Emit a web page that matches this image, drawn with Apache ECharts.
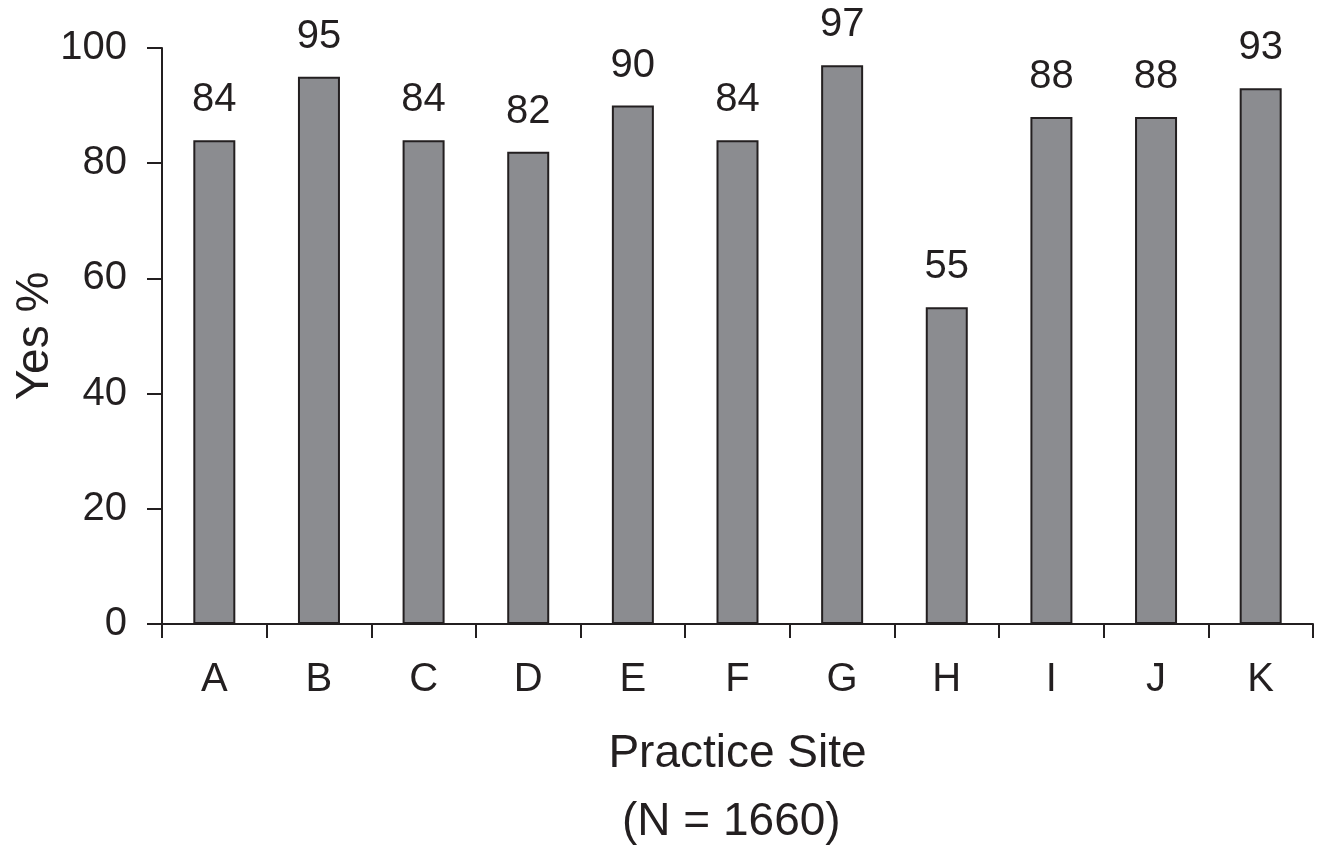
<!DOCTYPE html>
<html><head><meta charset="utf-8">
<script src="https://cdn.jsdelivr.net/npm/echarts@6/dist/echarts.min.js"></script>
<style>html,body{margin:0;padding:0;background:#fff}#c{width:1326px;height:848px}</style>
</head><body><div id="c"></div>
<script>
const categories = ['A','B','C','D','E','F','G','H','I','J','K'];
const values = [84,95,84,82,90,84,97,55,88,88,93];
const yTicks = [0,20,40,60,80,100];
const ink = '#231f20';
const font = 'Liberation Sans, Arial, Helvetica, sans-serif';
const chart = echarts.init(document.getElementById('c'));
chart.setOption({
  animation:false,
  grid:{left:162,right:13,top:48,bottom:224,containLabel:false,outerBoundsMode:'none'},
  title:{text:'(N = 1660)',left:622,top:799,textStyle:{fontFamily:font,fontSize:46,fontWeight:'normal',color:ink},padding:0},
  xAxis:{type:'category',data:categories,
    name:'Practice Site',nameLocation:'middle',nameGap:107,nameMoveOverlap:false,
    nameTextStyle:{fontFamily:font,fontSize:46,color:ink},
    axisLine:{show:true,lineStyle:{color:ink,width:2}},
    axisTick:{show:true,length:14,lineStyle:{color:ink,width:2},alignWithLabel:false},
    axisLabel:{fontFamily:font,fontSize:40,color:ink,margin:36}},
  yAxis:{type:'value',min:0,max:100,interval:20,
    name:'Yes %',nameLocation:'middle',nameGap:104,nameMoveOverlap:false,
    nameTextStyle:{fontFamily:font,fontSize:46,color:ink},
    axisLine:{show:true,lineStyle:{color:ink,width:2}},
    axisTick:{show:true,length:15,lineStyle:{color:ink,width:2}},
    splitLine:{show:false},
    axisLabel:{fontFamily:font,fontSize:40,color:ink,margin:35,
      formatter:v=>yTicks.includes(v)?String(v):''}},
  series:[{type:'bar',data:values,barWidth:42,
    itemStyle:{color:'#8b8c90',borderColor:ink,borderWidth:2},
    label:{show:true,position:'top',distance:20,fontFamily:font,fontSize:40,color:ink}}]
});
</script></body></html>
